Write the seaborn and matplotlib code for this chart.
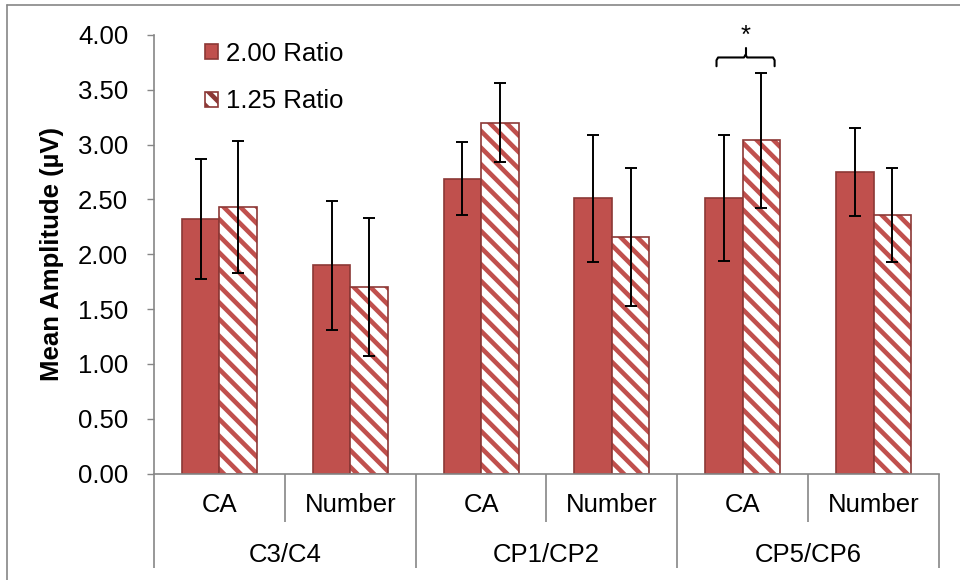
import numpy as np
import pandas as pd
import matplotlib
matplotlib.use("Agg")
import matplotlib.pyplot as plt
import matplotlib.transforms as mtransforms
from matplotlib.patches import Patch, Rectangle
from matplotlib.lines import Line2D
import seaborn as sns

# Electrode sites, conditions and mean amplitudes (µV) with error bars
sites = ["C3/C4", "C3/C4", "CP1/CP2", "CP1/CP2", "CP5/CP6", "CP5/CP6"]
conditions = ["CA", "Number", "CA", "Number", "CA", "Number"]
ratio_labels = ["2.00 Ratio", "1.25 Ratio"]
ratio_200 = [2.32, 1.90, 2.69, 2.51, 2.51, 2.75]
ratio_125 = [2.43, 1.70, 3.20, 2.16, 3.04, 2.36]
err_200 = [0.55, 0.59, 0.33, 0.58, 0.575, 0.405]
err_125 = [0.60, 0.63, 0.36, 0.63, 0.615, 0.43]
y_ticks = [0.0, 0.5, 1.0, 1.5, 2.0, 2.5, 3.0, 3.5, 4.0]

BAR_RED = "#C0504D"
EDGE_RED = "#8C3836"
AXIS_GRAY = "#868686"
FS = 18.5

sns.set_theme(style="white")
plt.rcParams["font.family"] = ["Liberation Sans", "DejaVu Sans"]
plt.rcParams["hatch.linewidth"] = 3.3
plt.rcParams["text.color"] = "black"
plt.rcParams["axes.labelcolor"] = "black"

keys = [f"{s}|{c}" for s, c in zip(sites, conditions)]
df = pd.DataFrame({
    "key": keys * 2,
    "ratio": [ratio_labels[0]] * len(keys) + [ratio_labels[1]] * len(keys),
    "amp": ratio_200 + ratio_125,
})

fig = plt.figure(figsize=(9.6, 5.8), dpi=100)
W, H = 960, 580
ax = fig.add_axes([154 / W, 1 - 473.5 / H, (939 - 154) / W, (473.5 - 35) / H])

sns.barplot(data=df, x="key", y="amp", hue="ratio", order=keys,
            hue_order=ratio_labels, palette=[BAR_RED, BAR_RED],
            saturation=1, width=0.573, errorbar=None, legend=False,
            edgecolor=EDGE_RED, linewidth=1.2, ax=ax)

# Hatched fill for the 1.25 ratio bars, with a separate dark outline
for p in ax.containers[1]:
    p.set_facecolor("white")
    p.set_edgecolor(BAR_RED)
    p.set_linewidth(0)
    p.set_hatch("\\\\")
    ax.add_patch(Rectangle((p.get_x(), p.get_y()), p.get_width(), p.get_height(),
                           fill=False, edgecolor=EDGE_RED, linewidth=1.2, zorder=p.get_zorder() + 0.1))

# Error bars centred on each bar
for cont, errs in zip(ax.containers[:2], [err_200, err_125]):
    xs = [p.get_x() + p.get_width() / 2 for p in cont]
    ys = [p.get_height() for p in cont]
    ax.errorbar(xs, ys, yerr=errs, fmt="none", ecolor="black", elinewidth=1.4,
                capsize=4.3, capthick=1.4, zorder=6)

ax.set_xlim(-0.5, len(keys) - 0.5)
ax.set_ylim(0, 4)
ax.set_yticks(y_ticks)
ax.set_yticklabels([f"{v:.2f}" for v in y_ticks])
ax.set_xticks([])
ax.set_xlabel("")
ax.tick_params(axis="y", left=True, length=5, width=1, color=AXIS_GRAY,
               pad=13.5, labelsize=FS, labelcolor="black", direction="out")
ax.set_ylabel("Mean Amplitude (µV)", fontsize=FS, fontweight="bold", labelpad=10)

for side in ["top", "right"]:
    ax.spines[side].set_visible(False)
for side in ["left", "bottom"]:
    ax.spines[side].set_color(AXIS_GRAY)
    ax.spines[side].set_linewidth(1.2)

# Two-level category axis
trans = mtransforms.blended_transform_factory(ax.transData, ax.transAxes)
for i, c in enumerate(conditions):
    ax.text(i, -0.072, c, transform=trans, ha="center", va="center", fontsize=FS)
groups = list(dict.fromkeys(sites))
for g in groups:
    idx = [i for i, s in enumerate(sites) if s == g]
    ax.text(np.mean(idx), -0.186, g, transform=trans, ha="center", va="center", fontsize=FS)
for i in range(len(keys) + 1):
    xb = i - 0.5
    starts_group = i == 0 or i == len(keys) or sites[i] != sites[i - 1]
    depth = -0.2155 if starts_group else -0.11
    ax.plot([xb, xb], [0, depth], transform=trans, color=AXIS_GRAY, lw=1.2,
            clip_on=False, solid_capstyle="butt")

# Legend
handles = [Patch(facecolor=BAR_RED, edgecolor=EDGE_RED, linewidth=1.2),
           Patch(facecolor="white", edgecolor=EDGE_RED, linewidth=1.2, hatch="\\\\")]
ax.legend(handles, ratio_labels, loc="upper left", bbox_to_anchor=(0.065, 0.985),
          frameon=False, fontsize=FS, handlelength=0.5, handleheight=0.5,
          handletextpad=0.3, labelspacing=0.93, borderpad=0, borderaxespad=0)

# Significance bracket over CP5/CP6 CA
pa = ax.containers[0][4]
pb = ax.containers[1][4]
x0 = pa.get_x() + 0.3 * pa.get_width()
x1 = pb.get_x() + 0.85 * pb.get_width()
xc = (x0 + x1) / 2
y_end = pb.get_height() + err_125[4] + 0.06
y_bar = y_end + 0.08
dx, dy = 0.012, 0.025
ax.plot([x0, x0, x0 + dx, xc - dx, xc, xc + dx, x1 - dx, x1, x1],
        [y_end, y_bar - dy, y_bar, y_bar, y_bar + dy, y_bar, y_bar, y_bar - dy, y_end],
        color="black", lw=1.5, clip_on=False, solid_joinstyle="round")
ax.plot([xc, xc], [y_bar + dy, y_bar + 0.09], color="black", lw=1.5, clip_on=False)
ax.text(xc, y_bar + 0.13, "*", ha="center", va="baseline", fontsize=FS, clip_on=False)

# Chart-area border
fig.add_artist(Line2D([7 / W, 7 / W], [0, 1 - 5 / H], transform=fig.transFigure,
                      color=AXIS_GRAY, lw=1.2))
fig.add_artist(Line2D([7 / W, 1], [1 - 5 / H, 1 - 5 / H], transform=fig.transFigure,
                      color=AXIS_GRAY, lw=1.2))

fig.savefig("out.png", dpi=100)
